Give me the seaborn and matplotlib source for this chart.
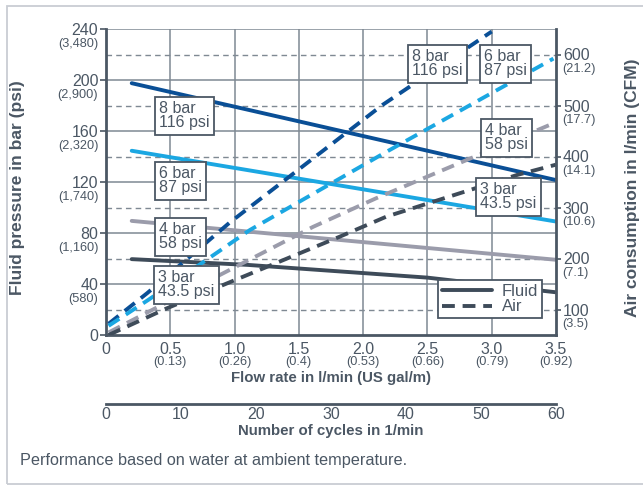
import matplotlib
matplotlib.use("Agg")
import matplotlib.pyplot as plt
import seaborn as sns
from matplotlib.patches import Rectangle
from matplotlib.lines import Line2D

# fluid pressure in bar vs flow rate in l/min
fluid_flow = [0.2, 3.5]
fluid_8bar = [197.5, 121.5]
fluid_6bar = [144.5, 89]
fluid_4bar = [89.5, 59]
fluid_3bar_flow = [0.2, 1.1, 2.5, 3.5]
fluid_3bar = [59.5, 55, 45, 33.5]

# air consumption in l/min vs flow rate in l/min
air_8bar_flow = [0.02, 0.32, 0.96, 2.15, 3.0]
air_8bar = [72, 132, 270, 501, 645]
air_6bar_flow = [0.02, 0.33, 1.12, 2.18, 3.48]
air_6bar = [68, 119, 256, 409, 592]
air_4bar_flow = [0.02, 1.61, 2.1, 3.48]
air_4bar = [55, 262, 318, 465]
air_3bar_flow = [0.02, 0.47, 1.82, 2.18, 3.2, 3.5]
air_3bar = [50, 102, 243, 282, 364, 384]

pressure_names = ["8 bar\n116 psi", "6 bar\n87 psi", "4 bar\n58 psi", "3 bar\n43.5 psi"]
colors = ["#0a4f96", "#1ba7e2", "#9b9cab", "#3e4b59"]

flow_ticks = [0, 0.5, 1.0, 1.5, 2.0, 2.5, 3.0, 3.5]
flow_labels = ["0", "0.5", "1.0", "1.5", "2.0", "2.5", "3.0", "3.5"]
flow_gal = ["", "(0.13)", "(0.26)", "(0.4)", "(0.53)", "(0.66)", "(0.79)", "(0.92)"]
bar_ticks = [0, 40, 80, 120, 160, 200, 240]
bar_psi = ["", "(580)", "(1,160)", "(1,740)", "(2,320)", "(2,900)", "(3,480)"]
air_ticks = [100, 200, 300, 400, 500, 600]
air_cfm = ["(3.5)", "(7.1)", "(10.6)", "(14.1)", "(17.7)", "(21.2)"]
cycle_ticks = [0, 10, 20, 30, 40, 50, 60]

sns.set_theme(style="white")
plt.rcParams["font.family"] = ["Liberation Sans", "DejaVu Sans"]

txt = "#4b5764"
grid_c = "#7f8993"
W, H = 643, 487
x0, x1, y0, y1 = 106, 556, 335, 29   # plot area in pixels

fig = plt.figure(figsize=(W / 100, H / 100), dpi=100)
ax = fig.add_axes([x0 / W, 1 - y0 / H, (x1 - x0) / W, (y0 - y1) / H])
ax2 = ax.twinx()

# outer frame
fig.patches.append(Rectangle((7 / W, 3 / H), (W + 10 - 7) / W, (H - 6 - 3) / H,
                             transform=fig.transFigure, fill=False,
                             ec="#c9cdd3", lw=1.3))

ax.set_xlim(0, 3.5)
ax.set_ylim(0, 240)
ax2.set_ylim(50, 650)

# grids
for v in flow_ticks[1:-1]:
    ax.axvline(v, color=grid_c, lw=1.1, zorder=0)
for v in bar_ticks[1:]:
    ax.axhline(v, color=grid_c, lw=1.1, zorder=0)
for v in air_ticks:
    ax.axhline((v - 50) / 2.5, color=grid_c, lw=1.0, ls=(0, (4, 3)), zorder=0)

# fluid lines
for yv, c in zip([fluid_8bar, fluid_6bar, fluid_4bar], colors[:3]):
    sns.lineplot(x=fluid_flow, y=yv, ax=ax, color=c, lw=2.8)
sns.lineplot(x=fluid_3bar_flow, y=fluid_3bar, ax=ax, color=colors[3], lw=2.8)

# air lines
for xv, yv, c in zip([air_8bar_flow, air_6bar_flow, air_4bar_flow, air_3bar_flow],
                     [air_8bar, air_6bar, air_4bar, air_3bar], colors):
    sns.lineplot(x=xv, y=yv, ax=ax2, color=c, lw=2.8, dashes=False,
                 linestyle=(0, (3.3, 2.0)))

# spines and ticks
for a in (ax, ax2):
    for s in a.spines.values():
        s.set_visible(False)
ax.spines["left"].set_visible(True)
ax.spines["bottom"].set_visible(True)
ax2.spines["right"].set_visible(True)
for s in (ax.spines["left"], ax.spines["bottom"], ax2.spines["right"]):
    s.set_color(txt)
    s.set_linewidth(2)

ax.set_xticks(flow_ticks, flow_labels)
ax.set_yticks(bar_ticks, [str(v) for v in bar_ticks])
ax2.set_yticks(air_ticks, [str(v) for v in air_ticks])
ax.tick_params(axis="x", direction="out", length=3, width=1.2, color=txt,
               labelsize=11.5, labelcolor=txt, pad=2)
ax.tick_params(axis="y", direction="out", length=4.5, width=1.2, color=txt,
               labelsize=11.5, labelcolor=txt, pad=1)
ax2.tick_params(axis="y", direction="out", length=3.5, width=1.2, color=txt,
                labelsize=11.5, labelcolor=txt, pad=1.5)
ax.set_xlabel("")
ax.set_ylabel("")
ax2.set_ylabel("")

# secondary unit labels
for v, s in zip(bar_ticks, bar_psi):
    ax.annotate(s, xy=(0, v), xycoords=("axes fraction", "data"), xytext=(-5.5, -10.5),
                textcoords="offset points", ha="right", va="center", fontsize=9.2, color=txt)
for v, s in zip(air_ticks, air_cfm):
    ax2.annotate(s, xy=(1, v), xycoords=("axes fraction", "data"), xytext=(4.5, -10.5),
                 textcoords="offset points", ha="left", va="center", fontsize=9.2, color=txt)
for v, s in zip(flow_ticks, flow_gal):
    ax.annotate(s, xy=(v, 0), xycoords=("data", "axes fraction"), xytext=(0, -19.5),
                textcoords="offset points", ha="center", va="center", fontsize=9.2, color=txt)

# pressure boxes (top-left corner in pixels)
box_pos = [(154, 97), (154, 162), (154, 218), (153, 266),
           (407, 45), (479, 45), (480, 119), (475, 178)]
for i, (px, py) in enumerate(box_pos):
    ax2.text((px + 5 - x0) / (x1 - x0), (y0 - py - 4) / (y0 - y1), pressure_names[i % 4],
             transform=ax2.transAxes, ha="left", va="top", fontsize=11.5, color=txt,
             linespacing=0.95, zorder=10,
             bbox=dict(boxstyle="square,pad=0.28", fc="white", ec=txt, lw=1.3))

# legend
handles = [Line2D([], [], color=colors[3], lw=2.8),
           Line2D([], [], color=colors[3], lw=2.8, ls=(0, (3.3, 2.0)))]
leg = ax2.legend(handles, ["Fluid", "Air"], loc="lower left",
                 bbox_to_anchor=((438 - x0) / (x1 - x0), (y0 - 318) / (y0 - y1)),
                 borderaxespad=0, fontsize=12, handlelength=3.0, handletextpad=0.6,
                 labelspacing=0.05, borderpad=0.22, fancybox=False, framealpha=1,
                 edgecolor=txt, labelcolor=txt)
leg.get_frame().set_linewidth(1.3)
leg.set_zorder(20)

# cycles axis
ax3 = fig.add_axes([x0 / W, 1 - 404 / H, (x1 - x0) / W, 0.0001])
ax3.patch.set_visible(False)
for k in ("left", "right", "top"):
    ax3.spines[k].set_visible(False)
ax3.spines["bottom"].set_color(txt)
ax3.spines["bottom"].set_linewidth(2)
ax3.set_xlim(0, 60)
ax3.set_yticks([])
ax3.set_xticks(cycle_ticks, [str(v) for v in cycle_ticks])
ax3.tick_params(axis="x", direction="in", length=4, width=1.2, color=txt,
                labelsize=11.5, labelcolor=txt, pad=2)

# titles and notes
fig.text(331 / W, 1 - 378 / H, "Flow rate in l/min (US gal/m)", ha="center", va="center",
         fontsize=10.8, fontweight="bold", color=txt)
fig.text(331 / W, 1 - 431 / H, "Number of cycles in 1/min", ha="center", va="center",
         fontsize=10.8, fontweight="bold", color=txt)
fig.text(18 / W, 1 - 188 / H, "Fluid pressure in bar (psi)", ha="center", va="center",
         rotation=90, fontsize=12.5, fontweight="bold", color=txt)
fig.text(632 / W, 1 - 188 / H, "Air consumption in l/min (CFM)", ha="center", va="center",
         rotation=90, fontsize=12.5, fontweight="bold", color=txt)
fig.text(20 / W, 1 - 460 / H, "Performance based on water at ambient temperature.",
         ha="left", va="center", fontsize=11.7, color=txt)

fig.savefig("out.png", dpi=100)
